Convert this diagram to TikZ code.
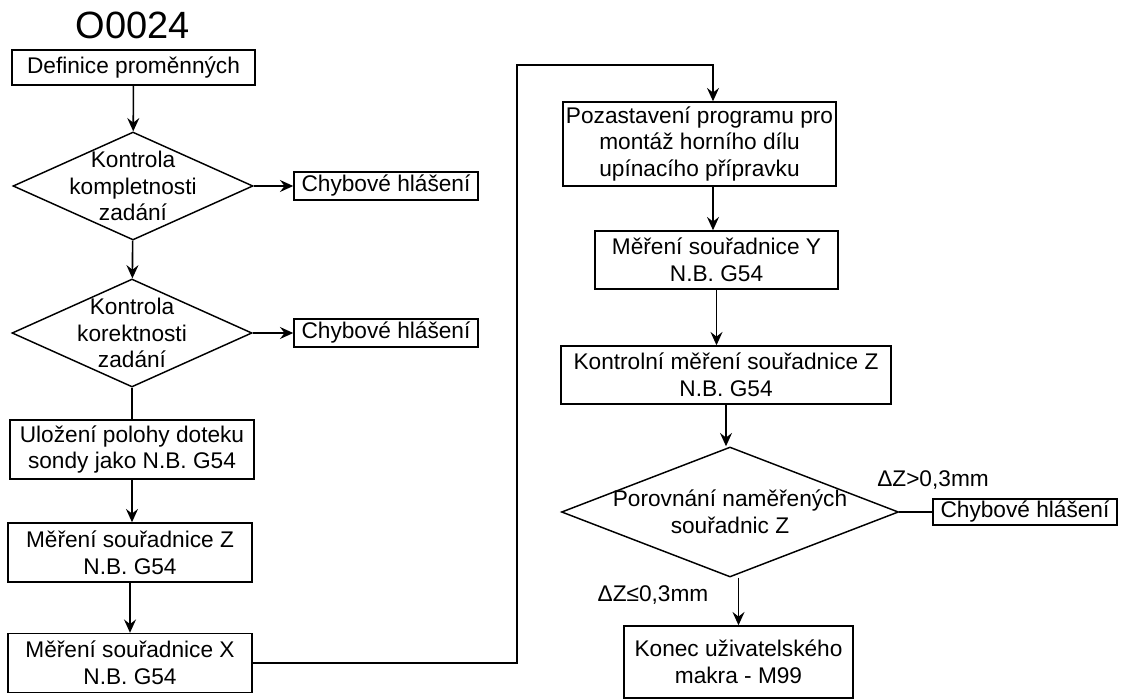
\documentclass[tikz,border=0pt]{standalone}
\usepackage{fontspec}
\setmainfont{Liberation Sans}
\usetikzlibrary{shapes.geometric,arrows.meta,positioning}
\tikzstyle{arrow} = [
    line width=1.2pt,
    -{Stealth[length=10pt,width=9pt,inset=3.5pt]},
    draw=black
]
\tikzstyle{line} = [
    line width=1.2pt,
    draw=black
]
\tikzstyle{process} = [
    rectangle,
    draw=black,
    line width=1.1pt,
    inner sep=0pt,
    align=center,
    font=\fontsize{17}{19.9}\selectfont
]
\tikzstyle{decision} = [
    diamond,
    draw=black,
    line width=1.1pt,
    inner sep=0pt
]
\tikzstyle{caption} = [
    align=center,
    font=\fontsize{17}{19.9}\selectfont
]

\begin{document}
\begin{tikzpicture}[x=0.75pt, y=-0.75pt]
    \useasboundingbox (0,0) rectangle (1123,699);
    % left column
    \node[font=\fontsize{28.5}{34}\selectfont] (title) at (133,25) {O0024};
    \node[process, minimum width=182.25pt, minimum height=26.25pt] (def) at (133.5,67.5) {Definice proměnných};
    \node[decision, minimum width=180pt, minimum height=81pt,
        label={[caption]center:Kontrola\\kompletnosti\\zadání}] (kompl) at (133,186) {};
    \node[process, minimum width=138pt, minimum height=21pt] (err1) at (386,186) {Chybové hlášení};
    \node[decision, minimum width=180pt, minimum height=81pt,
        label={[caption]center:Kontrola\\korektnosti\\zadání}] (korekt) at (132,333) {};
    \node[process, minimum width=138pt, minimum height=21pt] (err2) at (386,333) {Chybové hlášení};
    \node[process, minimum width=183pt, minimum height=44.25pt] (ulozeni) at (132,449.5) {Uložení polohy doteku\\sondy jako N.B. G54};
    \node[process, minimum width=183pt, minimum height=44.25pt] (merZ) at (130,552.5) {Měření souřadnice Z\\N.B. G54};
    \node[process, minimum width=183pt, minimum height=44.25pt] (merX) at (130,663) {Měření souřadnice X\\N.B. G54};
    % right column
    \node[process, minimum width=204.75pt, minimum height=63pt] (pauza) at (699.5,144) {Pozastavení programu pro\\montáž horního dílu\\upínacího přípravku};
    \node[process, minimum width=182.25pt, minimum height=43.5pt] (merY) at (716.5,260) {Měření souřadnice Y\\N.B. G54};
    \node[process, minimum width=247.5pt, minimum height=43.5pt] (kontrZ) at (726,375) {Kontrolní měření souřadnice Z\\N.B. G54};
    \node[decision, minimum width=252.75pt, minimum height=97.5pt,
        label={[caption]center:Porovnání naměřených\\souřadnic Z}] (porov) at (730,512) {};
    \node[process, minimum width=138pt, minimum height=19.5pt] (err3) at (1025,512) {Chybové hlášení};
    \node[process, minimum width=171.75pt, minimum height=54pt] (konec) at (738.5,662) {Konec uživatelského\\makra - M99};
    \node[caption] (vetsi) at (933,480) {ΔZ>0,3mm};
    \node[caption] (mensi) at (653,595) {ΔZ≤0,3mm};
    % connectors
    \coordinate (ohyb) at (517,65);
    \coordinate (vrch) at (713,65);
    \draw[arrow] (def) -- (kompl);
    \draw[arrow] (kompl) -- (err1);
    \draw[arrow] (kompl) -- (korekt);
    \draw[arrow] (korekt) -- (err2);
    \draw[line] (korekt) -- (ulozeni);
    \draw[arrow] (ulozeni) -- (merZ.north -| ulozeni);
    \draw[arrow] (merZ) -- (merX);
    \draw[arrow] (merX.east) -| (ohyb) -- (vrch) -- (vrch |- pauza.north);
    \draw[arrow] (pauza.south -| vrch) -- (vrch |- merY.north);
    \draw[arrow] (merY) -- (kontrZ.north -| merY);
    \draw[arrow] (kontrZ.south) -- (kontrZ.south |- porov.north);
    \draw[line] (porov) -- (err3);
    \draw[arrow] (porov.south -| konec) -- (konec);
\end{tikzpicture}
\end{document}
